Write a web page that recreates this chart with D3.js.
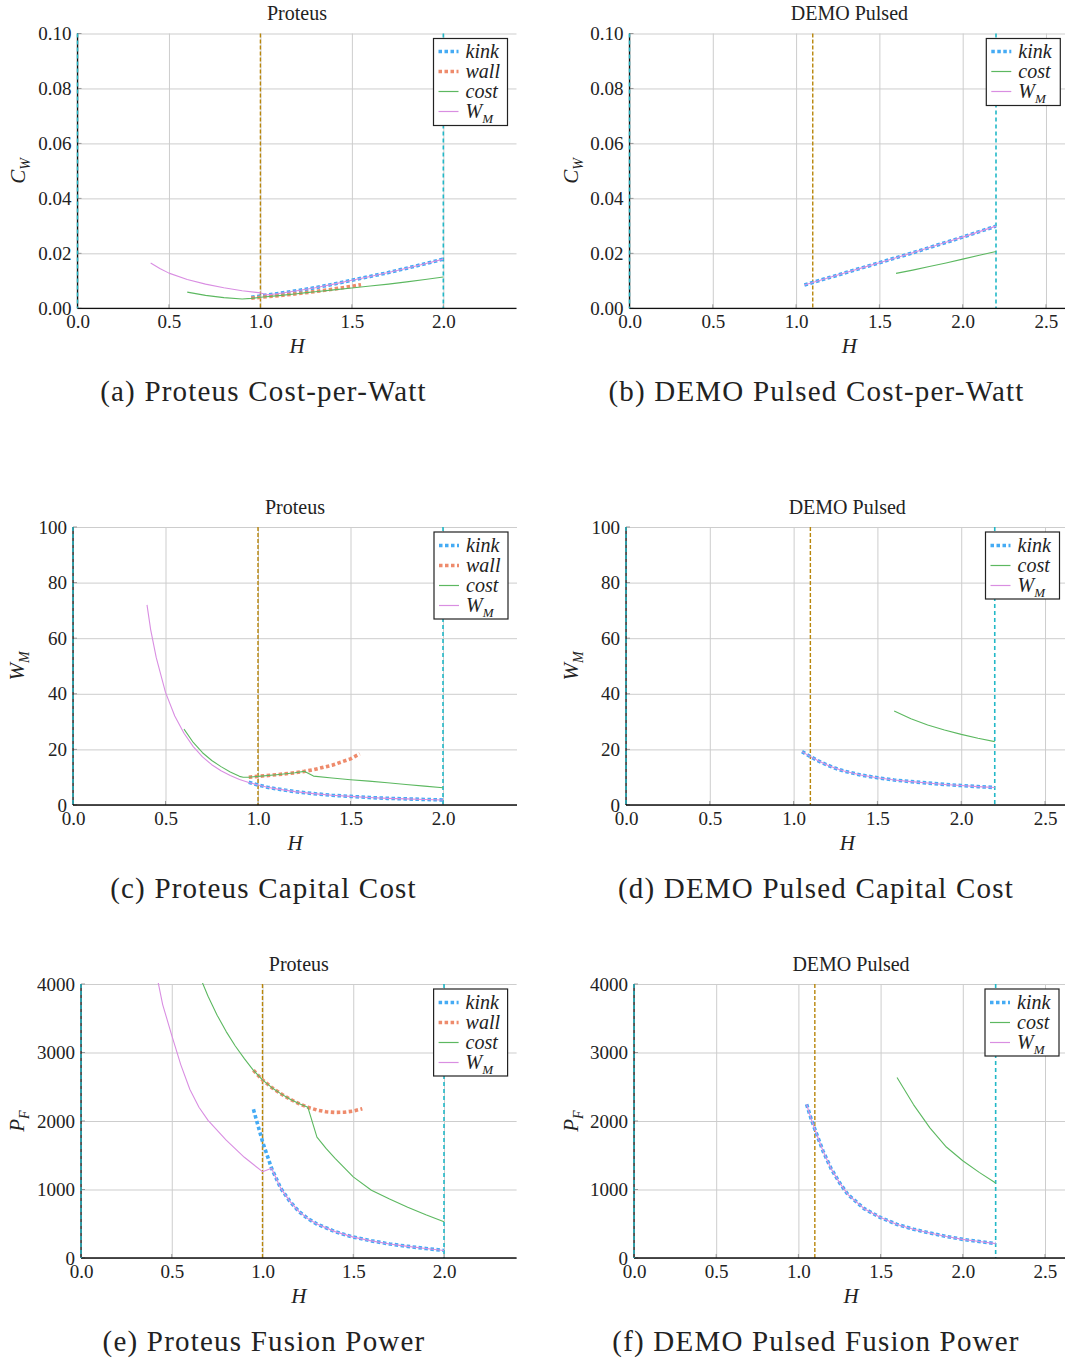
<!DOCTYPE html>
<html><head><meta charset="utf-8">
<script src="https://cdn.jsdelivr.net/npm/d3@7"></script>
<style>
body{margin:0;background:#fff}
svg{display:block}
text{font-family:'Liberation Serif','Times New Roman',serif;fill:#222}
</style>
</head><body>
<svg id="chart" width="1065" height="1359"></svg>
<script>
// ---------- tick values ----------
const H_TICKS = [0, 0.5, 1.0, 1.5, 2.0, 2.5];
const CW_TICKS = [0, 0.02, 0.04, 0.06, 0.08, 0.10];
const WM_TICKS = [0, 20, 40, 60, 80, 100];
const PF_TICKS = [0, 1000, 2000, 3000, 4000];

// ---------- (a) Proteus cost-per-watt ----------
const proteusCwKink = [[0.95,0.0040],[1.0,0.0045],[1.1,0.0054],[1.2,0.0064],[1.3,0.0075],[1.4,0.0088],[1.5,0.0102],[1.6,0.0116],[1.7,0.0130],[1.8,0.0146],[1.9,0.0162],[2.0,0.0179]];
const proteusCwWall = [[0.95,0.0037],[1.0,0.0040],[1.1,0.0046],[1.2,0.0053],[1.3,0.0061],[1.4,0.0070],[1.5,0.0080],[1.55,0.0086]];
const proteusCwCost = [[0.6,0.0059],[0.7,0.0047],[0.8,0.0039],[0.9,0.0034],[0.95,0.0036],[1.0,0.0040],[1.1,0.0046],[1.2,0.0053],[1.25,0.0057],[1.3,0.0060],[1.4,0.0067],[1.5,0.0074],[1.6,0.0081],[1.7,0.0088],[1.8,0.0096],[1.9,0.0105],[2.0,0.0114]];
const proteusCwWM = [[0.4,0.0165],[0.45,0.0145],[0.5,0.0128],[0.6,0.0105],[0.7,0.0088],[0.8,0.0075],[0.9,0.0064],[1.0,0.0056],[1.04,0.0049],[1.1,0.0054],[1.2,0.0064],[1.3,0.0075],[1.4,0.0088],[1.5,0.0102],[1.6,0.0116],[1.7,0.0130],[1.8,0.0146],[1.9,0.0162],[2.0,0.0179]];

// ---------- (b) DEMO Pulsed cost-per-watt ----------
const demoCwKink = [[1.05,0.0085],[1.1,0.0094],[1.2,0.0112],[1.3,0.0130],[1.4,0.0148],[1.5,0.0166],[1.6,0.0184],[1.7,0.0202],[1.8,0.0221],[1.9,0.0240],[2.0,0.0259],[2.1,0.0279],[2.2,0.0299]];
const demoCwCost = [[1.6,0.0127],[1.7,0.0139],[1.8,0.0152],[1.9,0.0165],[2.0,0.0179],[2.1,0.0193],[2.2,0.0207]];
const demoCwWM = [[1.05,0.0085],[1.1,0.0094],[1.2,0.0112],[1.3,0.0130],[1.4,0.0148],[1.5,0.0166],[1.6,0.0184],[1.7,0.0202],[1.8,0.0221],[1.9,0.0240],[2.0,0.0259],[2.1,0.0279],[2.2,0.0299]];

// ---------- (c) Proteus capital cost ----------
const proteusWmKink = [[0.95,8.2],[1.0,7.2],[1.05,6.4],[1.1,5.8],[1.2,4.8],[1.3,4.1],[1.4,3.5],[1.5,3.1],[1.6,2.7],[1.7,2.4],[1.8,2.2],[1.9,2.0],[2.0,1.8]];
const proteusWmWall = [[0.95,10.0],[1.0,10.3],[1.1,10.9],[1.2,11.6],[1.25,12.1],[1.3,12.7],[1.4,14.3],[1.5,16.6],[1.55,18.4]];
const proteusWmCost = [[0.6,27.3],[0.65,22.5],[0.7,18.8],[0.75,16.0],[0.8,13.8],[0.85,11.9],[0.9,10.3],[0.92,10.0],[0.95,10.0],[1.0,10.3],[1.1,10.9],[1.2,11.6],[1.25,12.1],[1.3,10.4],[1.4,9.7],[1.5,9.1],[1.6,8.6],[1.7,8.0],[1.8,7.4],[1.9,6.8],[2.0,6.2]];
const proteusWmWM = [[0.4,72],[0.42,63],[0.45,53],[0.5,40.5],[0.55,32],[0.6,25.8],[0.65,21],[0.7,17.3],[0.75,14.5],[0.8,12.3],[0.85,10.6],[0.9,9.2],[0.95,8.1],[1.0,7.2],[1.05,6.4],[1.1,5.8],[1.2,4.8],[1.3,4.1],[1.4,3.5],[1.5,3.1],[1.6,2.7],[1.7,2.4],[1.8,2.2],[1.9,2.0],[2.0,1.8]];

// ---------- (d) DEMO Pulsed capital cost ----------
const demoWmKink = [[1.05,19.2],[1.1,17.4],[1.15,15.8],[1.2,14.4],[1.25,13.2],[1.3,12.2],[1.4,10.8],[1.5,9.8],[1.6,9.0],[1.7,8.4],[1.8,7.9],[1.9,7.4],[2.0,7.0],[2.1,6.6],[2.2,6.3]];
const demoWmCost = [[1.6,33.8],[1.7,31.0],[1.8,28.8],[1.9,27.0],[2.0,25.4],[2.1,24.0],[2.2,22.8]];
const demoWmWM = [[1.05,19.2],[1.1,17.4],[1.15,15.8],[1.2,14.4],[1.25,13.2],[1.3,12.2],[1.4,10.8],[1.5,9.8],[1.6,9.0],[1.7,8.4],[1.8,7.9],[1.9,7.4],[2.0,7.0],[2.1,6.6],[2.2,6.3]];

// ---------- (e) Proteus fusion power ----------
const proteusPfKink = [[0.95,2170],[1.0,1700],[1.05,1310],[1.1,1020],[1.15,830],[1.2,680],[1.25,575],[1.3,495],[1.4,385],[1.5,305],[1.6,250],[1.7,205],[1.8,170],[1.9,138],[2.0,110]];
const proteusPfWall = [[0.95,2740],[1.0,2600],[1.05,2490],[1.1,2400],[1.15,2320],[1.2,2255],[1.25,2200],[1.3,2160],[1.35,2135],[1.4,2125],[1.45,2128],[1.5,2145],[1.55,2180]];
const proteusPfCost = [[0.65,4140],[0.7,3820],[0.75,3545],[0.8,3305],[0.85,3095],[0.9,2910],[0.95,2740],[1.0,2600],[1.05,2490],[1.1,2400],[1.15,2320],[1.2,2255],[1.25,2200],[1.3,1765],[1.35,1600],[1.4,1455],[1.5,1185],[1.6,990],[1.7,860],[1.8,740],[1.9,630],[2.0,530]];
const proteusPfWM = [[0.4,4350],[0.45,3700],[0.5,3250],[0.55,2820],[0.6,2460],[0.65,2200],[0.7,2010],[0.8,1720],[0.9,1470],[1.0,1260],[1.05,1310],[1.1,1020],[1.15,830],[1.2,680],[1.25,575],[1.3,495],[1.4,385],[1.5,305],[1.6,250],[1.7,205],[1.8,170],[1.9,138],[2.0,110]];

// ---------- (f) DEMO Pulsed fusion power ----------
const demoPfKink = [[1.05,2244],[1.075,2050],[1.1,1880],[1.15,1560],[1.2,1300],[1.25,1100],[1.3,930],[1.4,720],[1.5,590],[1.6,490],[1.7,420],[1.8,365],[1.9,315],[2.0,272],[2.1,240],[2.2,210]];
const demoPfCost = [[1.6,2636],[1.7,2240],[1.8,1900],[1.9,1620],[2.0,1420],[2.1,1250],[2.2,1095]];
const demoPfWM = [[1.05,2244],[1.075,2050],[1.1,1880],[1.15,1560],[1.2,1300],[1.25,1100],[1.3,930],[1.4,720],[1.5,590],[1.6,490],[1.7,420],[1.8,365],[1.9,315],[2.0,272],[2.1,240],[2.2,210]];

// ---------- reference lines (H values) ----------
const proteusVLines = {zero:0, gold:1.0, cyan:2.0};
const demoVLines = {zero:0, gold:1.1, cyan:2.2};

// ---------- styles ----------
const C = {kink:"#45abf4", wall:"#ee8b6c", cost:"#5cb860", wm:"#d98ee2", gold:"#b8860b", cyan:"#22b8c7", grid:"#cdcdcd"};
const STY = {
  kink:{color:C.kink, width:3.6, dash:"3.5,2.5", label:"kink"},
  wall:{color:C.wall, width:3.6, dash:"3.5,2.5", label:"wall"},
  cost:{color:C.cost, width:1.1, dash:null, label:"cost"},
  wm:{color:C.wm, width:1.1, dash:null, label:"WM"}
};

const fmtCw = d3.format(".2f"), fmtInt = d3.format("d");
const panels = [
 {title:"Proteus", caption:"(a) Proteus Cost-per-Watt", left:77.5, top:33.5, right:516.5, bottom:308.3, xMax:2.4, yMax:0.10, yTicks:CW_TICKS, yFmt:fmtCw, yLab:["C","W"], ylx:25, capx:263.5, vl:proteusVLines,
  series:[["kink",proteusCwKink],["wall",proteusCwWall],["cost",proteusCwCost],["wm",proteusCwWM]]},
 {title:"DEMO Pulsed", caption:"(b) DEMO Pulsed Cost-per-Watt", left:629.5, top:33.5, right:1069.3, bottom:308.3, xMax:2.64, yMax:0.10, yTicks:CW_TICKS, yFmt:fmtCw, yLab:["C","W"], ylx:578, capx:816.5, vl:demoVLines,
  series:[["kink",demoCwKink],["cost",demoCwCost],["wm",demoCwWM]]},
 {title:"Proteus", caption:"(c) Proteus Capital Cost", left:73, top:527, right:517, bottom:805, xMax:2.4, yMax:100, yTicks:WM_TICKS, yFmt:fmtInt, yLab:["W","M"], ylx:24, capx:263.5, vl:proteusVLines,
  series:[["kink",proteusWmKink],["wall",proteusWmWall],["cost",proteusWmCost],["wm",proteusWmWM]]},
 {title:"DEMO Pulsed", caption:"(d) DEMO Pulsed Capital Cost", left:626, top:527, right:1068.5, bottom:805, xMax:2.64, yMax:100, yTicks:WM_TICKS, yFmt:fmtInt, yLab:["W","M"], ylx:578, capx:816, vl:demoVLines,
  series:[["kink",demoWmKink],["cost",demoWmCost],["wm",demoWmWM]]},
 {title:"Proteus", caption:"(e) Proteus Fusion Power", left:81, top:984, right:516.6, bottom:1258, xMax:2.4, yMax:4000, yTicks:PF_TICKS, yFmt:fmtInt, yLab:["P","F"], ylx:24, capx:264, vl:proteusVLines,
  series:[["kink",proteusPfKink],["wall",proteusPfWall],["cost",proteusPfCost],["wm",proteusPfWM]]},
 {title:"DEMO Pulsed", caption:"(f) DEMO Pulsed Fusion Power", left:634, top:984, right:1068, bottom:1258, xMax:2.64, yMax:4000, yTicks:PF_TICKS, yFmt:fmtInt, yLab:["P","F"], ylx:578, capx:816, vl:demoVLines,
  series:[["kink",demoPfKink],["cost",demoPfCost],["wm",demoPfWM]]}
];

const svg = d3.select("#chart");
svg.append("rect").attr("width",1065).attr("height",1359).attr("fill","#fff");
const defs = svg.append("defs");

function subText(sel, main, sub, subSize, dy){
  sel.append("tspan").text(main);
  sel.append("tspan").attr("font-size",subSize).attr("dy",dy).text(sub);
}

panels.forEach((p,i)=>{
  const x = d3.scaleLinear().domain([0,p.xMax]).range([p.left,p.right]);
  const y = d3.scaleLinear().domain([0,p.yMax]).range([p.bottom,p.top]);
  const h = p.bottom-p.top, w = p.right-p.left;
  const xt = H_TICKS.filter(t=>t<=p.xMax+1e-9);
  const g = svg.append("g");

  defs.append("clipPath").attr("id","clip"+i).append("rect")
    .attr("x",p.left).attr("y",p.top-1).attr("width",w).attr("height",h+1);

  // grid
  const gx = g.append("g").attr("transform",`translate(0,${p.bottom})`)
    .call(d3.axisBottom(x).tickValues(xt).tickSize(-h).tickFormat(""));
  const gy = g.append("g").attr("transform",`translate(${p.left},0)`)
    .call(d3.axisLeft(y).tickValues(p.yTicks).tickSize(-w).tickFormat(""));
  [gx,gy].forEach(a=>{a.select(".domain").remove(); a.selectAll("line").attr("stroke",C.grid).attr("stroke-width",1);});

  // small inward ticks
  const tk = g.append("g");
  xt.forEach(t=>tk.append("line").attr("x1",x(t)).attr("x2",x(t)).attr("y1",p.bottom).attr("y2",p.bottom-4).attr("stroke","#999"));
  p.yTicks.forEach(t=>tk.append("line").attr("x1",p.left).attr("x2",p.left+4).attr("y1",y(t)).attr("y2",y(t)).attr("stroke","#999"));

  // vertical reference lines
  g.append("line").attr("x1",x(p.vl.gold)).attr("x2",x(p.vl.gold)).attr("y1",p.top).attr("y2",p.bottom)
    .attr("stroke",C.gold).attr("stroke-width",1.4).attr("stroke-dasharray","4,2");
  g.append("line").attr("x1",x(p.vl.cyan)).attr("x2",x(p.vl.cyan)).attr("y1",p.top).attr("y2",p.bottom)
    .attr("stroke",C.cyan).attr("stroke-width",1.6).attr("stroke-dasharray","4,3");

  // spines
  g.append("line").attr("x1",p.left).attr("x2",p.right).attr("y1",p.bottom).attr("y2",p.bottom).attr("stroke","#111").attr("stroke-width",1.3);
  g.append("line").attr("x1",p.left).attr("x2",p.left).attr("y1",p.top).attr("y2",p.bottom).attr("stroke","#111").attr("stroke-width",1.3);
  g.append("line").attr("x1",x(p.vl.zero)).attr("x2",x(p.vl.zero)).attr("y1",p.top).attr("y2",p.bottom)
    .attr("stroke",C.cyan).attr("stroke-width",1.4).attr("stroke-dasharray","4,3");

  // series
  const line = d3.line().x(d=>x(d[0])).y(d=>y(d[1]));
  const sg = g.append("g").attr("clip-path",`url(#clip${i})`);
  p.series.forEach(([k,data])=>{
    const s = STY[k];
    const path = sg.append("path").attr("d",line(data)).attr("fill","none")
      .attr("stroke",s.color).attr("stroke-width",s.width).attr("stroke-linejoin","round");
    if(s.dash) path.attr("stroke-dasharray",s.dash);
  });

  // tick labels
  const ax = g.append("g").attr("transform",`translate(0,${p.bottom})`)
    .call(d3.axisBottom(x).tickValues(xt).tickSize(0).tickPadding(6.5).tickFormat(d3.format(".1f")));
  const ay = g.append("g").attr("transform",`translate(${p.left},0)`)
    .call(d3.axisLeft(y).tickValues(p.yTicks).tickSize(0).tickPadding(6).tickFormat(p.yFmt));
  [ax,ay].forEach(a=>{a.select(".domain").remove(); a.selectAll("text").attr("font-size",19).attr("font-family","'Liberation Serif',serif").attr("fill","#222");});

  // axis labels
  g.append("text").attr("x",(p.left+p.right)/2).attr("y",p.bottom+45).attr("text-anchor","middle")
    .attr("font-size",21).attr("font-style","italic").text("H");
  const yl = g.append("text").attr("transform",`translate(${p.ylx},${(p.top+p.bottom)/2}) rotate(-90)`)
    .attr("text-anchor","middle").attr("font-size",21).attr("font-style","italic");
  subText(yl, p.yLab[0], p.yLab[1], 14, 5);

  // title & caption
  g.append("text").attr("x",(p.left+p.right)/2).attr("y",p.top-13.5).attr("text-anchor","middle")
    .attr("font-size",20).text(p.title);
  g.append("text").attr("x",p.capx).attr("y",p.bottom+93).attr("text-anchor","middle")
    .attr("font-size",29).attr("letter-spacing","1.2px").text(p.caption);

  // legend
  const n = p.series.length, bw = 74, bh = n*20+7;
  const bx = p.right-9-bw, by = p.top+5;
  const lg = g.append("g");
  lg.append("rect").attr("x",bx).attr("y",by).attr("width",bw).attr("height",bh)
    .attr("fill","#fff").attr("stroke","#222").attr("stroke-width",1.2);
  p.series.forEach(([k],j)=>{
    const s = STY[k], ry = Math.round(by+12.5+j*20)+0.5;
    const ln = lg.append("line").attr("x1",bx+5).attr("x2",bx+25).attr("y1",ry).attr("y2",ry)
      .attr("stroke",s.color).attr("stroke-width",s.dash ? 3.6 : 1.2);
    if(s.dash) ln.attr("stroke-dasharray",s.dash);
    const t = lg.append("text").attr("x",bx+32).attr("y",ry+6).attr("font-size",20).attr("font-style","italic");
    if(k==="wm") subText(t,"W","M",13,5); else t.text(s.label);
  });
});
</script>
</body></html>
